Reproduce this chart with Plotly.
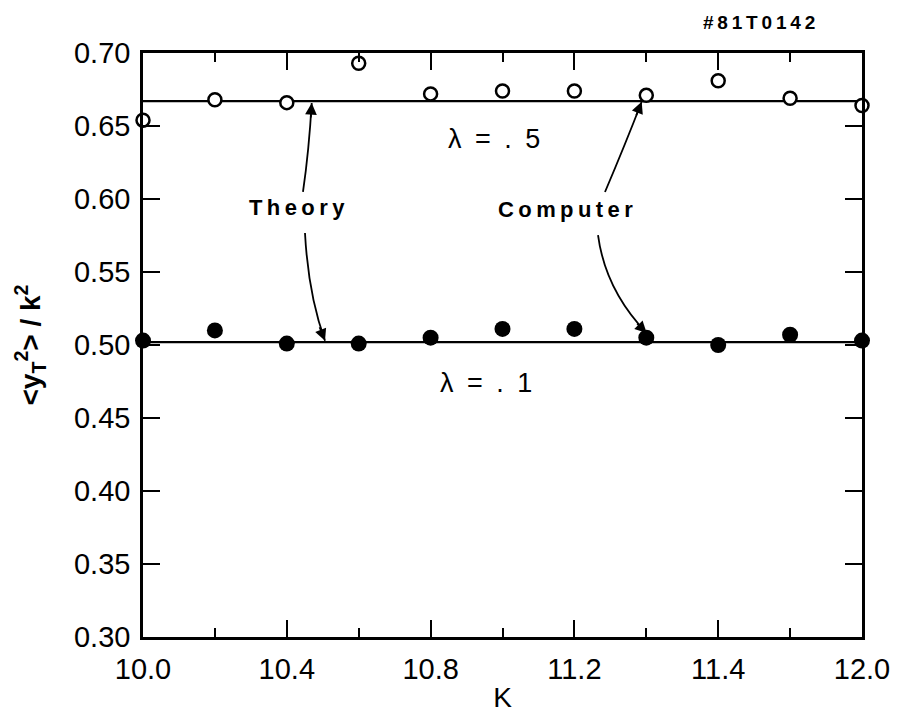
import plotly.graph_objects as go

# ---- data ----
K = [10.0, 10.2, 10.4, 10.6, 10.8, 11.0, 11.2, 11.4, 11.6, 11.8, 12.0]
computer_lam05 = [0.654, 0.668, 0.666, 0.693, 0.672, 0.674, 0.674, 0.671, 0.681, 0.669, 0.664]
computer_lam01 = [0.503, 0.510, 0.501, 0.501, 0.505, 0.511, 0.511, 0.505, 0.500, 0.507, 0.503]
theory_K = [10.0, 12.0]
theory_lam05 = [0.667, 0.667]
theory_lam01 = [0.502, 0.502]

x_tickvals = [10.0, 10.4, 10.8, 11.2, 11.6, 12.0]
x_ticktext = ["10.0", "10.4", "10.8", "11.2", "11.4", "12.0"]
x_minor = [10.2, 10.6, 11.0, 11.4, 11.8]
y_tickvals = [0.30, 0.35, 0.40, 0.45, 0.50, 0.55, 0.60, 0.65, 0.70]
y_ticktext = ["0.30", "0.35", "0.40", "0.45", "0.50", "0.55", "0.60", "0.65", "0.70"]

FONT = "Liberation Sans, Arial, sans-serif"
THIN = "\u2009"
EN = "\u2002"

fig = go.Figure()

# theory lines
for ty in (theory_lam05, theory_lam01):
    fig.add_trace(go.Scatter(x=theory_K, y=ty, mode="lines",
                             line=dict(color="black", width=2.2),
                             showlegend=False, hoverinfo="skip"))

# computer points
fig.add_trace(go.Scatter(x=K, y=computer_lam05, mode="markers", cliponaxis=False,
                         marker=dict(symbol="circle", size=13, color="white",
                                     line=dict(color="black", width=2.5)),
                         showlegend=False))
fig.add_trace(go.Scatter(x=K, y=computer_lam01, mode="markers", cliponaxis=False,
                         marker=dict(symbol="circle", size=16, color="black",
                                     line=dict(color="black", width=0)),
                         showlegend=False))

# curved arrow bodies (data coordinates)
paths = [
    "M 10.445,0.6048 Q 10.4618,0.6336 10.4693,0.6658",
    "M 10.4506,0.5767 C 10.4562,0.5514 10.4701,0.5274 10.5063,0.5029",
    "M 11.2851,0.6048 Q 11.3407,0.637 11.3872,0.6666",
    "M 11.2657,0.5753 C 11.2768,0.5548 11.3129,0.5308 11.4011,0.5082",
]
for p in paths:
    fig.add_shape(type="path", path=p, xref="x", yref="y",
                  line=dict(color="black", width=1.8))

# arrow heads
heads = [
    (10.4693, 0.6658, -1, 16),
    (10.5063, 0.5029, -6, -15),
    (11.3872, 0.6666, -6, 15),
    (11.4011, 0.5082, -11, -11),
]
for hx, hy, ax, ay in heads:
    fig.add_annotation(x=hx, y=hy, xref="x", yref="y", ax=ax, ay=ay,
                       text="", showarrow=True, arrowhead=2, arrowsize=1.3,
                       arrowwidth=1.8, arrowcolor="black", standoff=0)

# text labels
def label(text, x, y, size, bold=True, xref="x", yref="y"):
    fig.add_annotation(x=x, y=y, xref=xref, yref=yref, text=text, showarrow=False,
                       font=dict(family=FONT, size=size, color="black",
                                 weight="bold" if bold else "normal"),
                       xanchor="center", yanchor="middle")

label(THIN.join("Theory"), 10.428, 0.594, 22)
label(THIN.join("Computer"), 11.176, 0.593, 22)
label("λ" + EN + "=" + EN + "." + EN + "5", 10.975, 0.641, 27, bold=False)
label("λ" + EN + "=" + EN + "." + EN + "1", 10.955, 0.474, 27, bold=False)
label(THIN.join("#81T0142"), 0.857, 1.053, 19, xref="paper", yref="paper")

axis_common = dict(showline=True, linecolor="black", linewidth=2.5, mirror="allticks",
                   ticks="inside", tickcolor="black", tickwidth=2,
                   showgrid=False, zeroline=False,
                   tickfont=dict(family=FONT, size=29, color="black"))

fig.update_xaxes(range=[10.0, 12.0], tickmode="array", tickvals=x_tickvals,
                 ticktext=x_ticktext, ticklen=17, ticklabelstandoff=4,
                 minor=dict(tickmode="array", tickvals=x_minor, ticks="inside",
                            ticklen=9, tickwidth=2, tickcolor="black"),
                 title=dict(text="K", font=dict(family=FONT, size=28, color="black"),
                            standoff=10),
                 **axis_common)
fig.update_yaxes(range=[0.30, 0.70], tickmode="array", tickvals=y_tickvals,
                 ticktext=y_ticktext, ticklen=17, ticklabelstandoff=4,
                 title=dict(text="&lt;y<sub>T</sub><sup>2</sup>&gt; / k<sup>2</sup>",
                            font=dict(family=FONT, size=28, color="black", weight="bold"),
                            standoff=26),
                 **axis_common)

# page body has an 8px margin, so the figure is 8px smaller and offset
fig.update_layout(width=895, height=705, plot_bgcolor="white", paper_bgcolor="white",
                  margin=dict(l=135, r=41, t=45, b=76, autoexpand=False),
                  showlegend=False)

fig.write_html("out.html")
